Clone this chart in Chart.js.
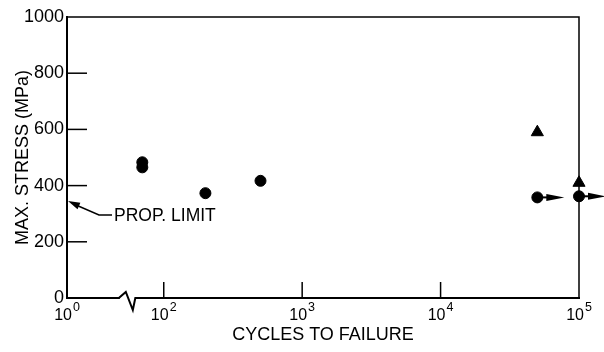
<!DOCTYPE html>
<html>
<head>
<meta charset="utf-8">
<script src="https://cdn.jsdelivr.net/npm/chart.js@4.4.0/dist/chart.umd.min.js"></script>
<style>
html,body{margin:0;padding:0;background:#fff;}
</style>
</head>
<body>
<canvas id="myChart" width="604" height="352"></canvas>
<script>
// failed specimens (filled circles)
let failCycles = [70, 70, 200, 500];
let failStress = [483, 465, 373, 417];
// run-outs (circle + arrow)
let runoutCycles = [50000, 100000];
let runoutStress = [358, 362];
// triangles
let triCycles = [50000, 100000];
let triStress = [590, 410];

let yTicks = [0, 200, 400, 600, 800, 1000];
// first tick sits at the broken axis start and is labelled 10^0
let xTickValues = [20, 100, 1000, 10000, 100000];
let xTickExp = ["0", "2", "3", "4", "5"];
let breakAt = 55;
let propLimit = 345;

const FONT = '"Liberation Sans", Arial, Helvetica, sans-serif';
Chart.defaults.font.family = FONT;
Chart.defaults.color = "#000";

function pts(xs, ys) {
  return xs.map((c, i) => ({x: c, y: ys[i]}));
}

function line(ctx, x1, y1, x2, y2) {
  ctx.beginPath();
  ctx.moveTo(x1, y1);
  ctx.lineTo(x2, y2);
  ctx.stroke();
}

const extras = {
  id: "extras",
  afterDraw(chart) {
    const ctx = chart.ctx;
    const a = chart.chartArea;
    const xs = chart.scales.x, ys = chart.scales.y;
    ctx.save();
    ctx.strokeStyle = "#000";
    ctx.fillStyle = "#000";

    // top and right frame
    ctx.lineWidth = 1.5;
    ctx.beginPath();
    ctx.moveTo(a.left, a.top);
    ctx.lineTo(a.right, a.top);
    ctx.lineTo(a.right, a.bottom);
    ctx.stroke();

    // inward tick marks
    ctx.lineWidth = 1.5;
    yTicks.slice(1, -1).forEach(v => {
      let py = ys.getPixelForValue(v);
      line(ctx, a.left, py, a.left + 20, py);
    });
    xTickValues.slice(1, -1).forEach(v => {
      let px = xs.getPixelForValue(v);
      line(ctx, px, a.bottom, px, a.bottom - 16);
    });

    // axis break
    let bx = xs.getPixelForValue(breakAt);
    ctx.fillStyle = "#fff";
    ctx.fillRect(bx - 8, a.bottom - 3, 17, 6);
    ctx.fillStyle = "#000";
    ctx.lineWidth = 2;
    ctx.beginPath();
    ctx.moveTo(bx - 9, a.bottom);
    ctx.lineTo(bx - 2, a.bottom - 6);
    ctx.lineTo(bx + 5, a.bottom + 12);
    ctx.lineTo(bx + 7.5, a.bottom);
    ctx.lineTo(bx + 10, a.bottom);
    ctx.stroke();

    // x tick labels 10^n
    xTickValues.forEach((v, i) => {
      let px = xs.getPixelForValue(v);
      ctx.font = "16px " + FONT;
      let w1 = ctx.measureText("10").width;
      ctx.font = "12.5px " + FONT;
      let w2 = ctx.measureText(xTickExp[i]).width;
      let sx = px - (w1 + w2 + 1) / 2;
      ctx.textAlign = "left";
      ctx.textBaseline = "alphabetic";
      ctx.font = "16px " + FONT;
      ctx.fillText("10", sx, a.bottom + 22);
      ctx.font = "12.5px " + FONT;
      ctx.fillText(xTickExp[i], sx + w1 + 1, a.bottom + 13);
    });

    // PROP. LIMIT arrow
    let tipX = a.left + 1, tipY = ys.getPixelForValue(propLimit);
    let elX = tipX + 31, elY = tipY + 14;
    ctx.lineWidth = 1.5;
    ctx.beginPath();
    ctx.moveTo(tipX + 8, tipY + 4);
    ctx.lineTo(elX, elY);
    ctx.lineTo(elX + 13, elY);
    ctx.stroke();
    let dx = elX - tipX, dy = elY - tipY, len = Math.hypot(dx, dy);
    let ux = dx / len, uy = dy / len;
    let hb = 12, hw = 3.5;
    ctx.beginPath();
    ctx.moveTo(tipX, tipY);
    ctx.lineTo(tipX + ux * hb - uy * hw, tipY + uy * hb + ux * hw);
    ctx.lineTo(tipX + ux * hb + uy * hw, tipY + uy * hb - ux * hw);
    ctx.closePath();
    ctx.fill();
    ctx.font = "17.5px " + FONT;
    ctx.textBaseline = "middle";
    ctx.fillText("PROP. LIMIT", elX + 15, elY + 1);

    // run-out arrows
    chart.getDatasetMeta(1).data.forEach(p => {
      ctx.lineWidth = 2;
      line(ctx, p.x, p.y, p.x + 12, p.y);
      ctx.beginPath();
      ctx.moveTo(p.x + 9, p.y - 3.5);
      ctx.lineTo(p.x + 27, p.y);
      ctx.lineTo(p.x + 9, p.y + 3.5);
      ctx.closePath();
      ctx.fill();
    });
    ctx.restore();
  }
};

new Chart(document.getElementById("myChart"), {
  type: "scatter",
  data: {
    datasets: [
      {data: pts(failCycles, failStress), pointStyle: "circle", pointRadius: 5.5,
       backgroundColor: "#000", borderColor: "#000", clip: false},
      {data: pts(runoutCycles, runoutStress), pointStyle: "circle", pointRadius: 5.5,
       backgroundColor: "#000", borderColor: "#000", clip: false},
      {data: pts(triCycles, triStress), pointStyle: "triangle", pointRadius: 7,
       backgroundColor: "#000", borderColor: "#000", clip: false}
    ]
  },
  options: {
    responsive: false,
    animation: false,
    layout: {padding: {left: 0, right: 25, top: 17, bottom: 0}},
    plugins: {legend: {display: false}, tooltip: {enabled: false}},
    scales: {
      x: {
        type: "logarithmic", min: 20, max: 100000,
        grid: {display: false, drawTicks: false},
        border: {display: true, color: "#000", width: 2},
        ticks: {display: false},
        afterFit(s) { s.height = 54; },
        title: {display: true, text: "CYCLES TO FAILURE", color: "#000",
                font: {size: 18}, padding: {top: 0, bottom: 6}}
      },
      y: {
        min: 0, max: 1000,
        grid: {display: false, drawTicks: false},
        border: {display: true, color: "#000", width: 2},
        afterBuildTicks(s) { s.ticks = yTicks.map(v => ({value: v})); },
        ticks: {color: "#000", font: {size: 18}, padding: 3,
                callback: v => String(v)},
        afterFit(s) { s.width = 67; },
        title: {display: true, text: "MAX. STRESS (MPa)", color: "#000",
                font: {size: 18}, padding: {top: 12, bottom: 0}}
      }
    }
  },
  plugins: [extras]
});
</script>
</body>
</html>
